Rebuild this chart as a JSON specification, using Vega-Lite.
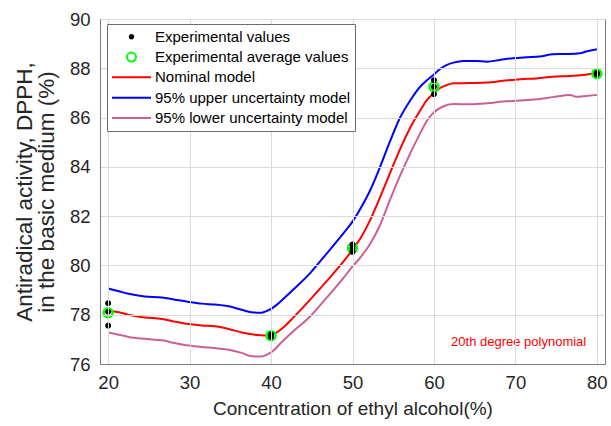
{
  "$schema": "https://vega.github.io/schema/vega-lite/v6.json",
  "width": 505,
  "height": 345,
  "autosize": "none",
  "padding": {"left": 100, "top": 19, "right": 6, "bottom": 62},
  "background": "white",
  "config": {
    "font": "Liberation Sans",
    "view": {"stroke": "#7a7a7a", "strokeWidth": 1, "fill": null},
    "axis": {
      "grid": true,
      "gridColor": "#dadada",
      "gridOpacity": 1,
      "gridWidth": 1,
      "domainColor": "#7a7a7a",
      "ticks": false,
      "labelColor": "#262626",
      "titleColor": "#262626",
      "labelFont": "Liberation Sans",
      "titleFont": "Liberation Sans",
      "titleFontWeight": "normal",
      "labelFontSize": 18.5,
      "titleFontSize": 19
    },
    "legend": {
      "orient": "none", "legendX": 7, "legendY": 5, "zindex": 3,
      "strokeColor": "#6e6e6e", "fillColor": "white", "padding": 4,
      "labelFontSize": 15, "labelColor": "#000000", "labelOffset": 3,
      "clipHeight": 17.5, "rowPadding": 2.3, "symbolStrokeWidth": 2,
      "labelFont": "Liberation Sans", "labelLimit": 400
    }
  },
  "datasets": {
    "curves": [
      {"series": "Nominal model", "x": 20, "y": 78.16},
      {"series": "Nominal model", "x": 21.3, "y": 78.10},
      {"series": "Nominal model", "x": 22.5, "y": 78.00},
      {"series": "Nominal model", "x": 24.5, "y": 77.89},
      {"series": "Nominal model", "x": 26.6, "y": 77.83},
      {"series": "Nominal model", "x": 28.2, "y": 77.72},
      {"series": "Nominal model", "x": 29.9, "y": 77.62},
      {"series": "Nominal model", "x": 31.5, "y": 77.56},
      {"series": "Nominal model", "x": 33.1, "y": 77.53},
      {"series": "Nominal model", "x": 34.8, "y": 77.42},
      {"series": "Nominal model", "x": 36.4, "y": 77.28},
      {"series": "Nominal model", "x": 38.0, "y": 77.19},
      {"series": "Nominal model", "x": 39.3, "y": 77.16},
      {"series": "Nominal model", "x": 40.0, "y": 77.19},
      {"series": "Nominal model", "x": 40.7, "y": 77.28},
      {"series": "Nominal model", "x": 41.5, "y": 77.48},
      {"series": "Nominal model", "x": 42.7, "y": 77.87},
      {"series": "Nominal model", "x": 44.8, "y": 78.61},
      {"series": "Nominal model", "x": 46.8, "y": 79.35},
      {"series": "Nominal model", "x": 48.9, "y": 80.16},
      {"series": "Nominal model", "x": 50.0, "y": 80.64},
      {"series": "Nominal model", "x": 50.9, "y": 81.06},
      {"series": "Nominal model", "x": 52.1, "y": 81.80},
      {"series": "Nominal model", "x": 53.4, "y": 82.78},
      {"series": "Nominal model", "x": 54.6, "y": 83.75},
      {"series": "Nominal model", "x": 55.8, "y": 84.69},
      {"series": "Nominal model", "x": 57.1, "y": 85.60},
      {"series": "Nominal model", "x": 58.3, "y": 86.28},
      {"series": "Nominal model", "x": 59.1, "y": 86.70},
      {"series": "Nominal model", "x": 60.0, "y": 86.99},
      {"series": "Nominal model", "x": 60.7, "y": 87.19},
      {"series": "Nominal model", "x": 61.6, "y": 87.32},
      {"series": "Nominal model", "x": 62.4, "y": 87.39},
      {"series": "Nominal model", "x": 64.5, "y": 87.40},
      {"series": "Nominal model", "x": 66.5, "y": 87.42},
      {"series": "Nominal model", "x": 68.5, "y": 87.49},
      {"series": "Nominal model", "x": 70.6, "y": 87.56},
      {"series": "Nominal model", "x": 72.6, "y": 87.59},
      {"series": "Nominal model", "x": 74.6, "y": 87.66},
      {"series": "Nominal model", "x": 76.7, "y": 87.69},
      {"series": "Nominal model", "x": 78.3, "y": 87.73},
      {"series": "Nominal model", "x": 80.0, "y": 87.80},

      {"series": "95% upper uncertainty model", "x": 20, "y": 79.06},
      {"series": "95% upper uncertainty model", "x": 21.3, "y": 78.95},
      {"series": "95% upper uncertainty model", "x": 22.5, "y": 78.85},
      {"series": "95% upper uncertainty model", "x": 24.5, "y": 78.74},
      {"series": "95% upper uncertainty model", "x": 26.6, "y": 78.70},
      {"series": "95% upper uncertainty model", "x": 28.2, "y": 78.61},
      {"series": "95% upper uncertainty model", "x": 29.9, "y": 78.52},
      {"series": "95% upper uncertainty model", "x": 31.5, "y": 78.45},
      {"series": "95% upper uncertainty model", "x": 33.1, "y": 78.41},
      {"series": "95% upper uncertainty model", "x": 34.8, "y": 78.34},
      {"series": "95% upper uncertainty model", "x": 36.4, "y": 78.20},
      {"series": "95% upper uncertainty model", "x": 37.6, "y": 78.10},
      {"series": "95% upper uncertainty model", "x": 38.8, "y": 78.08},
      {"series": "95% upper uncertainty model", "x": 39.6, "y": 78.17},
      {"series": "95% upper uncertainty model", "x": 40.5, "y": 78.35},
      {"series": "95% upper uncertainty model", "x": 41.1, "y": 78.52},
      {"series": "95% upper uncertainty model", "x": 42.7, "y": 79.01},
      {"series": "95% upper uncertainty model", "x": 44.8, "y": 79.69},
      {"series": "95% upper uncertainty model", "x": 46.8, "y": 80.47},
      {"series": "95% upper uncertainty model", "x": 48.9, "y": 81.31},
      {"series": "95% upper uncertainty model", "x": 50.0, "y": 81.78},
      {"series": "95% upper uncertainty model", "x": 50.9, "y": 82.26},
      {"series": "95% upper uncertainty model", "x": 52.1, "y": 83.00},
      {"series": "95% upper uncertainty model", "x": 53.4, "y": 84.01},
      {"series": "95% upper uncertainty model", "x": 54.6, "y": 85.03},
      {"series": "95% upper uncertainty model", "x": 55.8, "y": 85.97},
      {"series": "95% upper uncertainty model", "x": 57.1, "y": 86.70},
      {"series": "95% upper uncertainty model", "x": 58.3, "y": 87.25},
      {"series": "95% upper uncertainty model", "x": 59.1, "y": 87.50},
      {"series": "95% upper uncertainty model", "x": 60.0, "y": 87.75},
      {"series": "95% upper uncertainty model", "x": 60.7, "y": 87.96},
      {"series": "95% upper uncertainty model", "x": 61.6, "y": 88.14},
      {"series": "95% upper uncertainty model", "x": 62.4, "y": 88.23},
      {"series": "95% upper uncertainty model", "x": 63.6, "y": 88.30},
      {"series": "95% upper uncertainty model", "x": 65.2, "y": 88.30},
      {"series": "95% upper uncertainty model", "x": 66.5, "y": 88.27},
      {"series": "95% upper uncertainty model", "x": 68.1, "y": 88.34},
      {"series": "95% upper uncertainty model", "x": 69.7, "y": 88.41},
      {"series": "95% upper uncertainty model", "x": 71.4, "y": 88.45},
      {"series": "95% upper uncertainty model", "x": 73.0, "y": 88.48},
      {"series": "95% upper uncertainty model", "x": 74.6, "y": 88.57},
      {"series": "95% upper uncertainty model", "x": 76.3, "y": 88.58},
      {"series": "95% upper uncertainty model", "x": 77.9, "y": 88.61},
      {"series": "95% upper uncertainty model", "x": 78.7, "y": 88.68},
      {"series": "95% upper uncertainty model", "x": 80.0, "y": 88.77},

      {"series": "95% lower uncertainty model", "x": 20, "y": 77.28},
      {"series": "95% lower uncertainty model", "x": 21.3, "y": 77.19},
      {"series": "95% lower uncertainty model", "x": 22.5, "y": 77.10},
      {"series": "95% lower uncertainty model", "x": 24.5, "y": 77.02},
      {"series": "95% lower uncertainty model", "x": 26.6, "y": 76.96},
      {"series": "95% lower uncertainty model", "x": 28.2, "y": 76.85},
      {"series": "95% lower uncertainty model", "x": 29.9, "y": 76.75},
      {"series": "95% lower uncertainty model", "x": 31.5, "y": 76.69},
      {"series": "95% lower uncertainty model", "x": 33.1, "y": 76.65},
      {"series": "95% lower uncertainty model", "x": 34.8, "y": 76.58},
      {"series": "95% lower uncertainty model", "x": 36.4, "y": 76.45},
      {"series": "95% lower uncertainty model", "x": 37.6, "y": 76.31},
      {"series": "95% lower uncertainty model", "x": 38.8, "y": 76.30},
      {"series": "95% lower uncertainty model", "x": 39.6, "y": 76.40},
      {"series": "95% lower uncertainty model", "x": 40.5, "y": 76.60},
      {"series": "95% lower uncertainty model", "x": 41.1, "y": 76.82},
      {"series": "95% lower uncertainty model", "x": 42.7, "y": 77.32},
      {"series": "95% lower uncertainty model", "x": 44.8, "y": 77.93},
      {"series": "95% lower uncertainty model", "x": 46.8, "y": 78.68},
      {"series": "95% lower uncertainty model", "x": 48.9, "y": 79.49},
      {"series": "95% lower uncertainty model", "x": 50.0, "y": 79.96},
      {"series": "95% lower uncertainty model", "x": 50.9, "y": 80.30},
      {"series": "95% lower uncertainty model", "x": 52.1, "y": 80.84},
      {"series": "95% lower uncertainty model", "x": 53.4, "y": 81.65},
      {"series": "95% lower uncertainty model", "x": 54.6, "y": 82.66},
      {"series": "95% lower uncertainty model", "x": 55.8, "y": 83.61},
      {"series": "95% lower uncertainty model", "x": 57.1, "y": 84.56},
      {"series": "95% lower uncertainty model", "x": 58.3, "y": 85.35},
      {"series": "95% lower uncertainty model", "x": 59.1, "y": 85.85},
      {"series": "95% lower uncertainty model", "x": 59.9, "y": 86.18},
      {"series": "95% lower uncertainty model", "x": 61.1, "y": 86.45},
      {"series": "95% lower uncertainty model", "x": 62.4, "y": 86.55},
      {"series": "95% lower uncertainty model", "x": 64.5, "y": 86.54},
      {"series": "95% lower uncertainty model", "x": 66.5, "y": 86.58},
      {"series": "95% lower uncertainty model", "x": 68.5, "y": 86.65},
      {"series": "95% lower uncertainty model", "x": 70.6, "y": 86.69},
      {"series": "95% lower uncertainty model", "x": 72.6, "y": 86.74},
      {"series": "95% lower uncertainty model", "x": 74.6, "y": 86.83},
      {"series": "95% lower uncertainty model", "x": 76.7, "y": 86.92},
      {"series": "95% lower uncertainty model", "x": 77.5, "y": 86.84},
      {"series": "95% lower uncertainty model", "x": 78.7, "y": 86.88},
      {"series": "95% lower uncertainty model", "x": 80.0, "y": 86.92}
    ],
    "points": [
      {"series": "Experimental average values", "x": 20, "y": 78.08},
      {"series": "Experimental average values", "x": 40, "y": 77.15},
      {"series": "Experimental average values", "x": 50, "y": 80.70},
      {"series": "Experimental average values", "x": 60, "y": 87.25},
      {"series": "Experimental average values", "x": 80, "y": 87.78},
      {"series": "Experimental values", "x": 20, "y": 78.47},
      {"series": "Experimental values", "x": 20, "y": 78.12},
      {"series": "Experimental values", "x": 20, "y": 77.56},
      {"series": "Experimental values", "x": 40, "y": 77.10},
      {"series": "Experimental values", "x": 40, "y": 77.15},
      {"series": "Experimental values", "x": 40, "y": 77.20},
      {"series": "Experimental values", "x": 50, "y": 80.85},
      {"series": "Experimental values", "x": 50, "y": 80.70},
      {"series": "Experimental values", "x": 50, "y": 80.55},
      {"series": "Experimental values", "x": 60, "y": 87.52},
      {"series": "Experimental values", "x": 60, "y": 87.25},
      {"series": "Experimental values", "x": 60, "y": 86.95},
      {"series": "Experimental values", "x": 80, "y": 87.75},
      {"series": "Experimental values", "x": 80, "y": 87.80},
      {"series": "Experimental values", "x": 80, "y": 87.80}
    ],
    "note": [
      {"x": 70.4, "y": 76.9, "label": "20th degree polynomial"}
    ]
  },
  "layer": [
    {
      "data": {"name": "curves"},
      "mark": {"type": "line", "strokeWidth": 2, "interpolate": "monotone"},
      "encoding": {
        "x": {
          "field": "x", "type": "quantitative",
          "scale": {"domain": [19, 81], "nice": false, "zero": false},
          "axis": {"values": [20, 30, 40, 50, 60, 70, 80], "grid": true, "gridColor": "#dadada", "zindex": 1, "title": "Concentration of ethyl alcohol(%)", "labelPadding": 9, "titlePadding": 8}
        },
        "y": {
          "field": "y", "type": "quantitative",
          "scale": {"domain": [76, 90], "nice": false, "zero": false},
          "axis": {"values": [76, 78, 80, 82, 84, 86, 88, 90], "grid": true, "gridColor": "#dadada", "zindex": 1, "title": ["Antiradical activity, DPPH,", "in the basic medium (%)"], "titleFontSize": 22.5, "titleLineHeight": 22, "labelPadding": 10, "titlePadding": 11}
        },
        "stroke": {
          "field": "series", "type": "nominal", "title": null,
          "scale": {"domain": ["Experimental values", "Experimental average values", "Nominal model", "95% upper uncertainty model", "95% lower uncertainty model"], "range": ["#000000", "#00ff00", "#ff0000", "#0000ff", "#cc5f96"]}
        }
      }
    },
    {
      "data": {"name": "points"},
      "mark": {"type": "point", "strokeWidth": 2.5, "opacity": 1},
      "encoding": {
        "x": {"field": "x", "type": "quantitative"},
        "y": {"field": "y", "type": "quantitative"},
        "stroke": {"field": "series", "type": "nominal", "title": null},
        "fill": {
          "field": "series", "type": "nominal", "title": null,
          "scale": {"domain": ["Experimental values", "Experimental average values", "Nominal model", "95% upper uncertainty model", "95% lower uncertainty model"], "range": ["#000000", "transparent", "transparent", "transparent", "transparent"]}
        },
        "shape": {
          "field": "series", "type": "nominal", "title": null,
          "scale": {"domain": ["Experimental values", "Experimental average values", "Nominal model", "95% upper uncertainty model", "95% lower uncertainty model"], "range": ["circle", "circle", "stroke", "stroke", "stroke"]}
        },
        "size": {
          "field": "series", "type": "nominal", "title": null,
          "scale": {"type": "ordinal", "domain": ["Experimental values", "Experimental average values", "Nominal model", "95% upper uncertainty model", "95% lower uncertainty model"], "range": [12, 80, 1521, 1521, 1521]}
        }
      }
    },
    {
      "data": {"name": "note"},
      "mark": {"type": "text", "color": "#ff0000", "fontSize": 13, "align": "center", "baseline": "middle", "font": "Liberation Sans"},
      "encoding": {
        "x": {"field": "x", "type": "quantitative"},
        "y": {"field": "y", "type": "quantitative"},
        "text": {"field": "label"}
      }
    }
  ]
}
